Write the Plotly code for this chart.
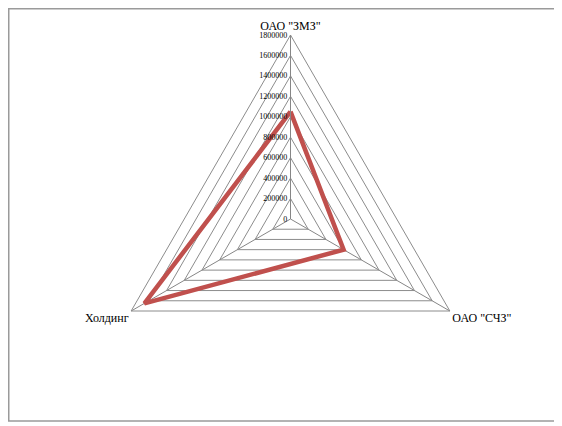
import plotly.graph_objects as go

categories = ['ОАО "ЗМЗ"', 'ОАО "СЧЗ"', 'Холдинг']
values = [1050000, 600000, 1650000]
tick_values = list(range(0, 1800001, 200000))
tick_labels = [str(v) for v in tick_values]

OFF = 8  # page body margin
W, H = 562 - OFF, 426 - OFF
cx, cy, R = 290.5 - OFF, 219 - OFF, 184  # centre / radius of the polar area in figure px

fig = go.Figure()
fig.add_trace(go.Scatterpolar(
    r=values + values[:1],
    theta=categories + categories[:1],
    mode="lines",
    line=dict(color="#C0504D", width=4.5),
    showlegend=False,
    hoverinfo="skip",
))

fig.update_layout(
    width=W, height=H,
    margin=dict(l=0, r=0, t=0, b=0),
    paper_bgcolor="white",
    plot_bgcolor="white",
    polar=dict(
        domain=dict(x=[(cx - R) / W, (cx + R) / W],
                    y=[(H - cy - R) / H, (H - cy + R) / H]),
        gridshape="linear",
        bgcolor="white",
        radialaxis=dict(
            range=[0, 1800000],
            tickvals=tick_values,
            ticktext=tick_labels,
            angle=90,
            side="counterclockwise",
            tickangle=90,
            showline=True,
            linecolor="#868686",
            linewidth=1,
            gridcolor="#8c8c8c",
            gridwidth=1,
            ticks="",
            tickfont=dict(family="Liberation Serif", size=8, color="black"),
        ),
        angularaxis=dict(
            direction="clockwise",
            rotation=90,
            showline=True,
            linecolor="#8c8c8c",
            linewidth=1,
            gridcolor="#868686",
            gridwidth=1,
            ticks="",
            tickfont=dict(family="Liberation Serif", size=12, color="black"),
        ),
    ),
    shapes=[dict(type="rect", xref="paper", yref="paper",
                 x0=0.75 / W, x1=(556 - OFF) / W,
                 y0=(H - (421 - OFF)) / H, y1=(H - 0.75) / H,
                 line=dict(color="#9a9a9a", width=1.5))],
)

fig.write_html("out.html")
